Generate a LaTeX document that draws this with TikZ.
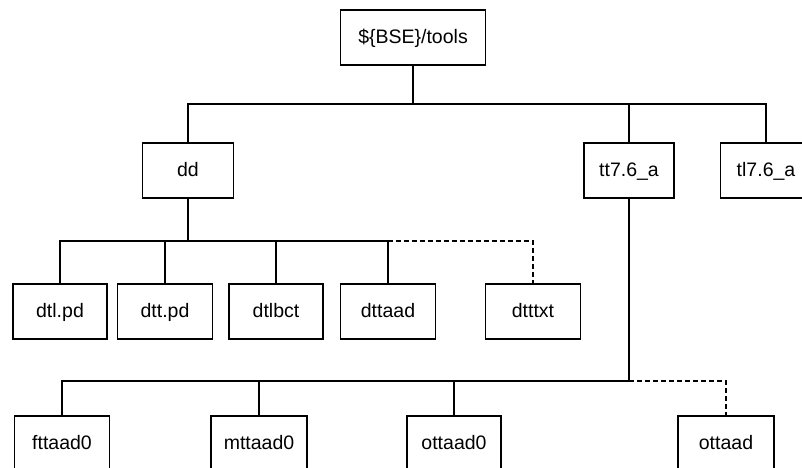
\documentclass[tikz,border=0pt]{standalone}
\usepackage{fontspec}
\setmainfont{Liberation Sans}
\begin{document}
\begin{tikzpicture}[x=1pt,y=-1pt,
  box/.style={draw, line width=1.3pt, minimum height=55pt, inner sep=0pt,
    text height=14pt, text depth=3pt, font=\fontsize{19.5}{23}\selectfont},
  conn/.style={line width=1.3pt},
  dconn/.style={line width=1.3pt, dash pattern=on 5pt off 3pt}]
\useasboundingbox (0,0) rectangle (802,467);
\clip (0,0) rectangle (802,467);
\fill[white] (0,0) rectangle (802,467);
% nodes
\node[box, minimum width=145pt] (root) at (413,37.5) {\$\{BSE\}/tools};
\node[box, minimum width=91pt] (dd) at (188,170.5) {dd};
\node[box, minimum width=90pt] (tt) at (629,170.5) {tt7.6\_a};
\node[box, minimum width=91pt] (tl) at (766,170.5) {tl7.6\_a};
\node[box, minimum width=94pt] (dtl) at (60,311.5) {dtl.pd};
\node[box, minimum width=95pt] (dtt) at (165,311.5) {dtt.pd};
\node[box, minimum width=94pt] (dtlbct) at (276,311.5) {dtlbct};
\node[box, minimum width=95pt] (dttaad) at (388,311.5) {dttaad};
\node[box, minimum width=95pt] (dtttxt) at (533,311.5) {dtttxt};
\node[box, minimum width=95pt] (fttaad0) at (62,443.5) {fttaad0};
\node[box, minimum width=96pt] (mttaad0) at (259,443.5) {mttaad0};
\node[box, minimum width=94pt] (ottaad0) at (454,443.5) {ottaad0};
\node[box, minimum width=96pt] (ottaad) at (726,443.5) {ottaad};
% bus coordinates
\coordinate (b1) at (413,104);
\coordinate (b2) at (188,241);
\coordinate (b3) at (629,381);
% top level
\draw[conn] (root.south) -- (b1);
\draw[conn] (dd.north) |- (b1) -| (tl.north);
\draw[conn] (tt.north) -- (tt.north |- b1);
% dd children
\draw[conn] (dd.south) -- (b2);
\draw[conn] (dtl.north) |- (b2) -| (dttaad.north);
\draw[conn] (dtt.north) -- (dtt.north |- b2);
\draw[conn] (dtlbct.north) -- (dtlbct.north |- b2);
\draw[dconn] (dttaad.north |- b2) -| (dtttxt.north);
% tt children
\draw[conn] (tt.south) -- (b3);
\draw[conn] (fttaad0.north) |- (b3);
\draw[conn] (mttaad0.north) -- (mttaad0.north |- b3);
\draw[conn] (ottaad0.north) -- (ottaad0.north |- b3);
\draw[dconn] (b3) -| (ottaad.north);
\end{tikzpicture}
\end{document}
